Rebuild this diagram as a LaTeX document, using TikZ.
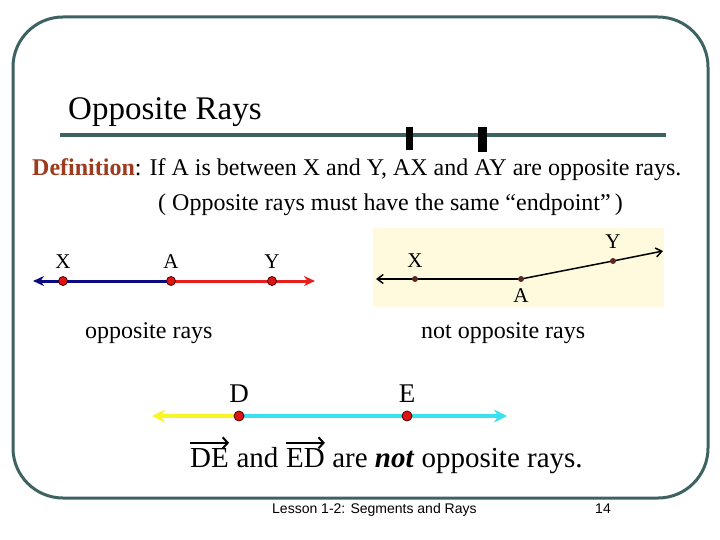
\documentclass[tikz,border=0pt]{standalone}
\usepackage{fontspec}
\setmainfont{Liberation Serif}
\setsansfont{Liberation Sans}
\usetikzlibrary{positioning,arrows.meta}

\definecolor{frameteal}{RGB}{62,98,98}
\definecolor{defred}{RGB}{158,58,30}
\definecolor{rayblue}{RGB}{10,10,130}
\definecolor{rayred}{RGB}{230,30,30}
\definecolor{rayyellow}{RGB}{250,245,40}
\definecolor{raycyan}{RGB}{60,225,240}
\definecolor{panel}{RGB}{255,250,222}
\definecolor{ptred}{RGB}{220,20,20}
\definecolor{ptbrown}{RGB}{90,40,30}

\newcommand{\sz}[1]{\fontsize{#1}{#1}\selectfont}

\begin{document}
\begin{tikzpicture}[
    x=1pt, y=-1pt,
    txt/.style={anchor=base west, inner sep=0pt},
    claimtxt/.style={txt, font=\sz{29}},
    lbl/.style={inner sep=0pt, font=\sz{21}},
    dot/.style={circle, fill=ptred, draw=black!70!red, line width=0.8pt, minimum size=9pt, inner sep=0pt},
    smalldot/.style={circle, fill=ptbrown, minimum size=6pt, inner sep=0pt},
    bigdot/.style={circle, fill=ptred, draw=black!70!red, line width=0.8pt, minimum size=10pt, inner sep=0pt},
    ray/.style={line width=3pt, -{Stealth[length=11pt,width=10pt]}},
    thinray/.style={line width=1.5pt, -{Straight Barb[length=6pt,width=9pt]}},
    wideray/.style={line width=4pt, -{Stealth[length=13pt,width=13pt]}},
    vecarrow/.style={line width=2pt, -{Straight Barb[length=5pt,width=11pt]}}
]
\useasboundingbox (0,0) rectangle (720,540);

% slide frame and title
\draw[frameteal, line width=3pt, rounded corners=50pt] (13,17) rectangle (708,498);
\node[txt, font=\sz{33}] (title) at (68,120) {Opposite Rays};
\draw[frameteal, line width=4pt] (60,135) -- (666,135);
\fill (406,127) rectangle (413,150);
\fill (478,127) rectangle (487,152);

% definition
\node[txt, font=\sz{24}] (def) at (32,176)
  {{\color{defred}\bfseries Definition}: If A is between X and Y, AX and AY are opposite rays.};
\node[txt, font=\sz{24}] (note) at (158,211)
  {( Opposite rays must have the same “endpoint”\,)};

% opposite rays
\coordinate (tipLl) at (33,281);
\coordinate (xL) at (63,281);
\coordinate (aL) at (171,281);
\coordinate (yL) at (272,281);
\coordinate (tipLr) at (315,281);
\draw[ray, rayblue] (aL) -- (tipLl);
\draw[ray, rayred] (aL) -- (tipLr);
\node[dot] (xLdot) at (xL) {};
\node[dot] (aLdot) at (aL) {};
\node[dot] (yLdot) at (yL) {};
\node[lbl, above=7pt of xLdot] (xLlbl) {X};
\node[lbl, above=7pt of aLdot] (aLlbl) {A};
\node[lbl, above=7pt of yLdot] (yLlbl) {Y};
\node[txt, font=\sz{24}] (yes) at (85,338) {opposite rays};

% not opposite rays
\fill[panel] (373,228) rectangle (664,307);
\coordinate (tipRl) at (376,279);
\coordinate (xR) at (415,279);
\coordinate (aR) at (521,279);
\coordinate (yR) at (613,261);
\coordinate (tipRr) at (663,251);
\draw[thinray] (aR) -- (tipRl);
\draw[thinray] (aR) -- (yR) -- (tipRr);
\node[smalldot] (xRdot) at (xR) {};
\node[smalldot] (aRdot) at (aR) {};
\node[smalldot] (yRdot) at (yR) {};
\node[lbl, above=8pt of xRdot] (xRlbl) {X};
\node[lbl, above=9pt of yRdot] (yRlbl) {Y};
\node[lbl, below=6pt of aRdot] (aRlbl) {A};
\node[txt, font=\sz{24}] (no) at (421,338) {not opposite rays};

% same line, two rays
\coordinate (tipBl) at (152,416);
\coordinate (d) at (239,416);
\coordinate (e) at (407,416);
\coordinate (tipBr) at (507,416);
\draw[wideray, rayyellow] (d) -- (tipBl);
\draw[wideray, raycyan] (d) -- (tipBr);
\node[bigdot] (ddot) at (d) {};
\node[bigdot] (edot) at (e) {};
\node[lbl, font=\sz{27}, above=8pt of ddot] (dlbl) {D};
\node[lbl, font=\sz{27}, above=8pt of edot] (elbl) {E};
\node[claimtxt] (de) at (190,467) {DE};
\node[claimtxt] (and) at (de.base east) {\ and\ \mbox{}};
\node[claimtxt] (ed) at (and.base east) {ED};
\node[claimtxt] (rest) at (ed.base east) {\ are \textbf{\textit{not}} opposite rays.};
\draw[vecarrow] ([yshift=5pt]de.north west) -- ([yshift=5pt]de.north east);
\draw[vecarrow] ([yshift=5pt]ed.north west) -- ([yshift=5pt]ed.north east);

% footer
\node[txt, font=\sffamily\sz{14}] (footer) at (272,513) {Lesson 1-2: Segments and Rays};
\node[anchor=base, inner sep=0pt, font=\sffamily\sz{14}] (page) at (603,513) {14};
\end{tikzpicture}
\end{document}
